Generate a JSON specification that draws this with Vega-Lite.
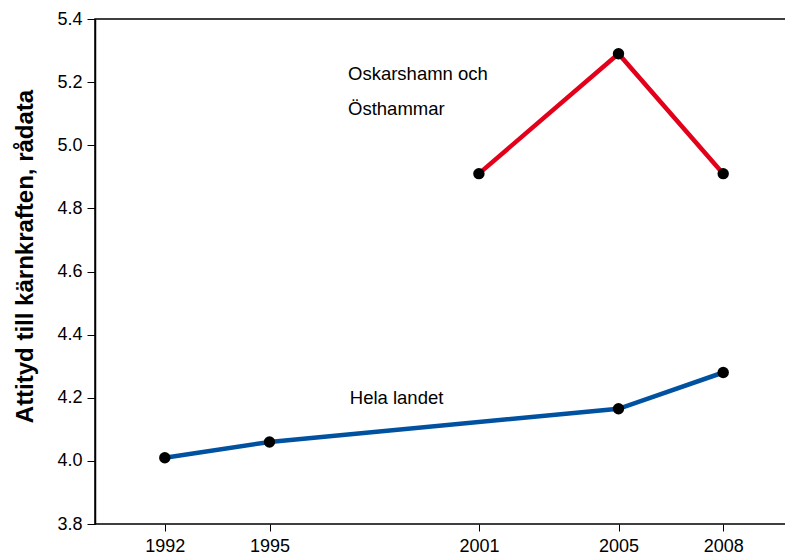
{
  "$schema": "https://vega.github.io/schema/vega-lite/v6.json",
  "width": 698,
  "height": 505,
  "autosize": {"type": "none"},
  "padding": {"left": 95, "top": 19, "right": 0, "bottom": 35},
  "background": "white",
  "config": {
    "font": "Liberation Sans",
    "view": {"stroke": "black", "strokeWidth": 1.5},
    "axis": {"grid": false}
  },
  "datasets": {
    "series": [
      {"year": 1992, "value": 4.01, "series": "Hela landet"},
      {"year": 1995, "value": 4.06, "series": "Hela landet"},
      {"year": 2005, "value": 4.165, "series": "Hela landet"},
      {"year": 2008, "value": 4.28, "series": "Hela landet"},
      {"year": 2001, "value": 4.91, "series": "Oskarshamn och Östhammar"},
      {"year": 2005, "value": 5.29, "series": "Oskarshamn och Östhammar"},
      {"year": 2008, "value": 4.91, "series": "Oskarshamn och Östhammar"}
    ],
    "labels": [
      {"year": 1997.25, "value": 5.226, "label": "Oskarshamn och"},
      {"year": 1997.25, "value": 5.115, "label": "Östhammar"},
      {"year": 1997.3, "value": 4.199, "label": "Hela landet"}
    ]
  },
  "layer": [
    {
      "data": {"name": "series"},
      "mark": {"type": "line", "strokeWidth": 4.5},
      "encoding": {
        "x": {
          "field": "year", "type": "quantitative",
          "scale": {"domain": [1990, 2010], "nice": false, "zero": false},
          "axis": {
            "values": [1992, 1995, 2001, 2005, 2008],
            "format": "d",
            "title": null,
            "domain": false,
            "tickSize": 7,
            "tickColor": "black",
            "tickWidth": 1,
            "labelPadding": 6,
            "labelFontSize": 18,
            "labelColor": "black"
          }
        },
        "y": {
          "field": "value", "type": "quantitative",
          "scale": {"domain": [3.8, 5.4], "nice": false, "zero": false},
          "axis": {
            "values": [3.8, 4.0, 4.2, 4.4, 4.6, 4.8, 5.0, 5.2, 5.4],
            "format": ".1f",
            "title": "Attityd till kärnkraften, rådata",
            "titleFontSize": 24,
            "titleFontWeight": "bold",
            "titleColor": "black",
            "titleAngle": 270,
            "titleAlign": "center",
            "titleBaseline": "middle",
            "titleX": -70,
            "titleY": 237,
            "domainColor": "black",
            "domainWidth": 1.5,
            "tickSize": 8,
            "tickColor": "black",
            "tickWidth": 1,
            "labelPadding": 5,
            "labelFontSize": 18,
            "labelColor": "black"
          }
        },
        "color": {
          "field": "series", "type": "nominal",
          "scale": {"domain": ["Hela landet", "Oskarshamn och Östhammar"], "range": ["#0052a0", "#e2001a"]},
          "legend": null
        }
      }
    },
    {
      "data": {"name": "series"},
      "mark": {"type": "point", "filled": true, "color": "black", "opacity": 1, "size": 130},
      "encoding": {
        "x": {"field": "year", "type": "quantitative"},
        "y": {"field": "value", "type": "quantitative"}
      }
    },
    {
      "data": {"name": "labels"},
      "mark": {"type": "text", "align": "left", "baseline": "middle", "fontSize": 18.5, "color": "black"},
      "encoding": {
        "x": {"field": "year", "type": "quantitative"},
        "y": {"field": "value", "type": "quantitative"},
        "text": {"field": "label"}
      }
    }
  ]
}
